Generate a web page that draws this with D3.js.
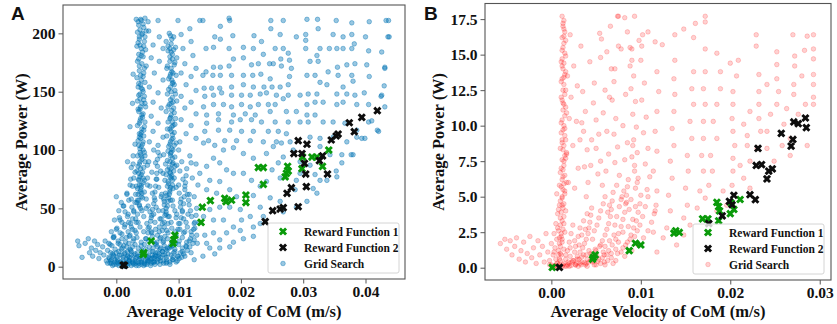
<!DOCTYPE html>
<html lang="en">
<head>
<meta charset="UTF-8">
<title>Grid search vs reward functions</title>
<script src="https://d3js.org/d3.v7.min.js"></script>
<style>
  body { margin: 0; background: #fff; }
  text { font-family: "Liberation Serif", "Times New Roman", serif; font-weight: bold; fill: #111; }
  .panel-letter { font-family: "Liberation Sans", Arial, sans-serif; font-size: 19px; }
</style>
</head>
<body>
<script>
// ---- data ----
const xTicksA = [0, 0.01, 0.02, 0.03, 0.04];
const yTicksA = [0, 50, 100, 150, 200];
const xTicksB = [0, 0.01, 0.02, 0.03];
const yTicksB = [0, 2.5, 5, 7.5, 10, 12.5, 15, 17.5];
const legendNames = ["Reward Function 1", "Reward Function 2", "Grid Search"];

// panel A: reward function 1 (green)
const rf1A = [[0.0043,10.6],[0.0044,12],[0.0056,22],[0.0091,20],[0.0092,23],[0.0094,27],[0.0136,38],[0.0138,51],
  [0.0151,56.6],[0.0174,58.6],[0.0176,55.7],[0.0185,57],[0.0208,55],[0.0208,61.4],[0.0228,85],[0.0236,85],
  [0.0236,70.6],[0.0271,77],[0.0273,80],[0.0275,86],[0.0276,82],[0.0298,84],[0.0299,94],[0.0314,94],
  [0.0322,94],[0.0331,86],[0.0341,100]];
// panel A: reward function 2 (black)
const rf2A = [[0.0011,1.4],[0.0013,1.2],[0.0239,38.6],[0.0251,48],[0.0263,49.4],[0.0268,50.6],[0.0292,51.4],
  [0.0274,62.9],[0.0281,67.7],[0.0285,97],[0.0292,108],[0.0298,97],[0.0302,88.6],[0.0304,79.4],[0.0306,105],
  [0.0305,68.6],[0.0326,90.9],[0.0331,95],[0.0339,79.4],[0.0345,108.6],[0.0353,112],[0.0356,113.7],
  [0.0374,123.4],[0.0382,115.7],[0.0394,128],[0.0419,133.7]];
// panel A: grid search (blue)
const gridA = [
  // left tail
  [-0.0062,22],[-0.0060,18],[-0.0055,8],[-0.0050,20],[-0.0045,24],[-0.0043,12],[-0.0040,16],[-0.0038,9],
  [-0.0035,22],[-0.0033,14],[-0.0030,19],[-0.0028,7],[-0.0026,12],[-0.0022,17],[-0.0020,10],[-0.0018,22],
  [-0.0016,5],[-0.0014,14],[-0.0012,8],[-0.0010,19],[-0.0008,3],[-0.0006,11],[-0.0004,25],[-0.0002,6],
  // blob near the origin
  [-0.0010,3],[-0.0008,6],[-0.0006,1],[-0.0004,9],[-0.0002,4],[0.0000,2],[0.0000,12],[0.0002,6],[0.0004,1],
  [0.0005,10],[0.0007,4],[0.0008,15],[0.0010,2],[0.0011,8],[0.0013,0.5],[0.0014,12],[0.0016,4],[0.0018,1],
  [0.0019,9],[0.0021,3],[0.0023,14],[0.0024,1],[0.0026,6],[0.0028,2],[0.0030,11],[0.0032,1],[0.0034,4],
  [0.0036,1],[0.0038,7],[0.0040,2],[0.0042,12],[0.0044,1],[0.0046,5],[0.0049,2],[0.0052,9],[0.0055,1],
  [0.0058,4],[0.0062,2],[0.0066,6],[0.0070,2],[0.0075,5],[0.0080,8],[0.0086,4],[0.0092,12],[0.0098,5],
  [0.0003,3],[0.0009,1],[0.0015,2],[0.0020,5],[0.0027,3],[0.0033,8],[0.0039,4],[0.0045,9],[0.0050,6],
  [0.0057,7],[0.0063,9],[0.0069,11],[0.0074,13],[0.0079,15],[0.0085,16],[0.0090,18],[0.0095,20],
  // dense cloud, lower left
  [-0.0014,3],[-0.0004,2],[0.0006,4],[0.0016,2],[0.0026,4],[0.0036,3],[0.0046,2],[0.0056,3],[0.0066,4],
  [0.0076,3],[0.0086,2],[0.0096,4],
  [-0.0011,7],[0.0001,8],[0.0011,6],[0.0021,8],[0.0031,7],[0.0041,6],[0.0051,8],[0.0061,7],[0.0071,8],
  [0.0081,6],[0.0091,8],[0.0101,7],[0.0110,9],
  [-0.0009,12],[0.0004,13],[0.0013,11],[0.0024,13],[0.0034,12],[0.0043,11],[0.0054,13],[0.0063,12],
  [0.0074,13],[0.0083,11],[0.0094,13],[0.0103,12],[0.0114,14],
  [-0.0007,18],[0.0006,19],[0.0017,17],[0.0030,19],[0.0040,18],[0.0053,17],[0.0064,19],[0.0077,18],
  [0.0088,17],[0.0100,19],[0.0112,18],[0.0123,20],
  [-0.0004,26],[0.0009,24],[0.0021,26],[0.0033,25],[0.0047,24],[0.0058,26],[0.0071,25],[0.0082,24],
  [0.0095,26],[0.0106,25],[0.0119,24],[0.0129,27],
  [0.0001,33],[0.0013,34],[0.0026,32],[0.0038,34],[0.0051,33],[0.0063,32],[0.0077,34],[0.0089,33],
  [0.0102,32],[0.0114,34],[0.0126,33],
  [0.0005,42],[0.0018,43],[0.0031,41],[0.0044,43],[0.0056,42],[0.0070,41],[0.0083,43],[0.0096,42],
  [0.0108,41],[0.0121,43],
  [0.0011,52],[0.0025,51],[0.0037,53],[0.0051,52],[0.0064,51],[0.0077,53],[0.0091,52],[0.0103,51],[0.0117,53],
  [0.0017,63],[0.0031,62],[0.0045,64],[0.0058,63],[0.0073,62],[0.0086,64],[0.0101,63],[0.0114,62],
  [0.0023,75],[0.0036,74],[0.0050,76],[0.0065,75],[0.0078,74],[0.0093,76],[0.0107,75],
  [0.0027,88],[0.0050,87],[0.0063,89],[0.0079,88],[0.0097,87],[0.0120,89],
  [-0.0009,5],[0.0001,4],[0.0011,3],[0.0021,5],[0.0031,3],[0.0041,4],[0.0051,5],[0.0061,4],[0.0071,5],
  [0.0081,4],[0.0091,6],
  [-0.0005,10],[0.0008,10],[0.0018,9],[0.0028,10],[0.0038,9],[0.0048,10],[0.0058,10],[0.0068,9],[0.0078,10],
  [0.0088,10],[0.0098,9],[0.0108,11],
  [-0.0002,15],[0.0010,16],[0.0022,15],[0.0035,16],[0.0047,15],[0.0059,16],[0.0070,15],[0.0082,16],
  [0.0094,15],[0.0106,16],[0.0118,17],
  [0.0003,22],[0.0015,21],[0.0027,22],[0.0040,21],[0.0052,22],[0.0065,21],[0.0076,22],[0.0089,21],
  [0.0101,22],[0.0113,21],[0.0125,23],
  [0.0006,29],[0.0019,30],[0.0032,29],[0.0044,30],[0.0057,29],[0.0069,30],[0.0083,29],[0.0095,30],
  [0.0108,29],[0.0120,30],
  [0.0009,38],[0.0023,37],[0.0035,38],[0.0049,37],[0.0062,38],[0.0074,37],[0.0088,38],[0.0100,37],
  [0.0112,38],[0.0125,37],
  [0.0014,47],[0.0028,47],[0.0041,48],[0.0054,47],[0.0068,48],[0.0080,47],[0.0094,48],[0.0106,47],[0.0119,48],
  [0.0020,57],[0.0034,57],[0.0048,58],[0.0062,57],[0.0076,58],[0.0090,57],[0.0104,58],[0.0116,57],
  [0.0026,69],[0.0040,68],[0.0054,69],[0.0068,68],[0.0082,69],[0.0096,68],[0.0110,69],
  [0.0030,81],[0.0057,81],[0.0071,82],[0.0086,81],[0.0102,82],[0.0046,95],[0.0060,100],[0.0076,96],
  // left envelope
  [-0.0005,25],[0.0000,32],[0.0003,20],[0.0006,40],[0.0009,28],[0.0012,52],[0.0014,36],[0.0017,62],
  [0.0019,45],[0.0022,70],[0.0024,58],[0.0008,55],[0.0004,48],[0.0000,60],[-0.0003,40],[0.0012,18],
  [0.0016,25],[0.0020,38],[0.0024,85],[0.0027,95],[0.0028,76],[-0.0008,30],[-0.0012,20],[0.0030,105],
  [0.0018,90],[0.0022,120],[0.0026,140],[0.0027,165],
  // first tall column
  [0.0032,212],[0.0040,211],[0.0046,213],[0.0036,207],[0.0044,205],[0.0034,201],[0.0041,199],[0.0048,202],
  [0.0037,195],[0.0045,193],[0.0033,189],[0.0040,187],[0.0047,186],[0.0036,182],[0.0043,180],[0.0034,176],
  [0.0041,174],[0.0048,172],[0.0037,168],[0.0044,166],[0.0033,162],[0.0040,160],[0.0046,158],[0.0035,154],
  [0.0042,152],[0.0038,148],[0.0045,146],[0.0034,142],[0.0041,140],[0.0047,137],[0.0036,133],[0.0043,131],
  [0.0039,127],[0.0046,124],[0.0034,121],[0.0041,118],[0.0037,114],[0.0044,112],[0.0035,108],[0.0042,105],
  [0.0038,101],[0.0045,98],[0.0034,95],[0.0041,92],[0.0037,88],[0.0044,85],[0.0033,82],[0.0040,79],
  [0.0036,75],[0.0043,72],[0.0032,69],[0.0039,66],[0.0035,62],[0.0042,59],
  [0.0038,190],[0.0039,156],[0.0038,135],[0.0039,110],[0.0038,90],[0.0037,70],
  [0.0035,210],[0.0043,208],[0.0038,203],[0.0046,197],[0.0035,192],[0.0042,184],[0.0036,178],[0.0045,170],
  [0.0039,164],[0.0036,157],[0.0043,150],[0.0038,144],[0.0046,140],[0.0035,135],[0.0042,128],[0.0037,123],
  [0.0044,117],[0.0039,113],[0.0036,104],[0.0043,100],[0.0039,96],[0.0046,90],[0.0035,86],[0.0042,81],
  [0.0038,77],[0.0045,74],[0.0034,67],[0.0041,63],[0.0036,57],
  [0.0039,212],[0.0042,200],[0.0037,197],[0.0044,189],[0.0040,181],[0.0037,172],[0.0043,163],[0.0040,153],
  [0.0036,147],[0.0044,143],[0.0039,137],[0.0041,130],[0.0038,125],[0.0045,120],[0.0040,115],[0.0037,111],
  [0.0043,107],[0.0040,103],[0.0038,98],[0.0041,94],[0.0039,84],[0.0036,80],[0.0043,76],[0.0040,70],
  [0.0038,64],[0.0040,60],[0.0033,55],[0.0039,50],
  [0.0030,55],[0.0037,52],[0.0028,48],[0.0034,45],[0.0026,41],[0.0032,38],[0.0024,34],[0.0030,31],
  [0.0022,27],[0.0028,24],[0.0020,20],[0.0026,17],[0.0018,13],[0.0024,10],[0.0016,7],[0.0021,5],
  // second tall column
  [0.0085,200],[0.0092,197],[0.0080,193],[0.0088,191],[0.0095,188],[0.0083,185],[0.0090,182],[0.0097,179],
  [0.0086,176],[0.0093,173],[0.0081,170],[0.0089,167],[0.0096,164],[0.0084,161],[0.0091,158],[0.0087,154],
  [0.0094,151],[0.0082,148],[0.0090,145],[0.0097,142],[0.0085,139],[0.0092,136],[0.0080,133],[0.0088,130],
  [0.0095,127],[0.0083,124],[0.0091,121],[0.0086,118],[0.0093,115],[0.0081,112],[0.0089,109],[0.0096,106],
  [0.0084,103],[0.0091,100],[0.0087,97],[0.0094,94],[0.0082,91],[0.0090,88],[0.0085,85],[0.0092,82],
  [0.0080,79],[0.0088,76],[0.0083,73],[0.0090,70],[0.0086,66],[0.0079,63],[0.0084,59],[0.0077,56],
  [0.0082,52],[0.0075,48],[0.0080,45],[0.0072,41],[0.0077,38],[0.0069,34],[0.0074,31],[0.0066,27],
  [0.0070,24],[0.0062,20],[0.0066,17],[0.0058,13],[0.0062,10],[0.0054,7],[0.0050,4],
  [0.0088,184],[0.0089,160],[0.0088,140],[0.0089,120],[0.0088,98],[0.0087,80],
  [0.0087,198],[0.0083,189],[0.0092,186],[0.0086,180],[0.0094,175],[0.0082,172],[0.0091,166],[0.0086,163],
  [0.0093,156],[0.0084,152],[0.0095,148],[0.0087,143],[0.0083,137],[0.0093,132],[0.0086,127],[0.0094,122],
  [0.0082,118],[0.0090,113],[0.0087,107],[0.0093,104],[0.0083,99],[0.0090,93],[0.0086,90],[0.0094,86],
  [0.0082,83],[0.0089,78],[0.0084,71],[0.0091,67],[0.0081,61],[0.0087,57],
  [0.0089,195],[0.0086,187],[0.0090,178],[0.0088,170],[0.0087,165],[0.0090,157],[0.0088,150],[0.0091,141],
  [0.0089,134],[0.0087,128],[0.0090,124],[0.0088,116],[0.0091,110],[0.0086,105],[0.0089,101],[0.0087,95],
  [0.0091,89],[0.0088,84],[0.0086,77],[0.0090,74],[0.0087,68],[0.0085,62],[0.0083,56],[0.0080,50],[0.0078,44],
  // fan streaks
  [0.0030,5],[0.0036,9],[0.0041,14],[0.0045,19],[0.0048,24],[0.0051,29],[0.0053,34],[0.0055,39],[0.0057,44],
  [0.0058,49],[0.0060,54],[0.0061,59],[0.0062,64],[0.0063,69],[0.0064,75],[0.0065,80],[0.0066,86],
  [0.0066,92],[0.0067,98],[0.0067,104],
  [0.0060,4],[0.0068,7],[0.0075,10],[0.0081,14],[0.0087,18],[0.0092,22],[0.0096,27],[0.0099,32],[0.0102,37],
  [0.0104,42],[0.0106,48],[0.0108,54],[0.0109,60],[0.0110,66],[0.0111,72],[0.0112,78],[0.0113,84],
  [0.0080,3],[0.0090,6],[0.0099,9],[0.0106,13],[0.0112,17],[0.0117,22],[0.0121,27],[0.0124,32],[0.0126,38],
  [0.0128,44],[0.0129,50],
  [0.0045,3],[0.0053,5],[0.0060,8],[0.0066,12],[0.0071,16],[0.0075,21],[0.0078,26],[0.0081,31],[0.0083,37],
  [0.0085,43],
  // scattered, middle left
  [0.0051,210],[0.0067,211],[0.0052,202],[0.0069,197],[0.0059,190],[0.0075,187],[0.0056,179],[0.0069,176],
  [0.0061,166],[0.0075,160],[0.0053,154],[0.0067,149],[0.0059,141],[0.0072,136],[0.0056,129],[0.0067,123],
  [0.0059,116],[0.0075,111],[0.0053,107],
  [0.0099,211],[0.0118,204],[0.0134,211],[0.0104,199],[0.0120,193],[0.0107,187],[0.0123,181],[0.0110,174],
  [0.0128,170],[0.0104,166],[0.0120,163],[0.0112,156],[0.0128,151],[0.0104,146],[0.0120,141],[0.0110,136],
  [0.0128,131],[0.0104,126],[0.0120,121],[0.0112,114],[0.0128,110],[0.0102,107],
  [0.0100,100],[0.0118,95],[0.0128,88],[0.0105,90],[0.0122,76],[0.0131,70],[0.0100,70],[0.0117,62],
  [0.0125,60],[0.0103,55],[0.0115,45],[0.0133,38],[0.0097,45],[0.0110,30],[0.0120,12],[0.0130,20],
  [0.0105,8],[0.0125,6],[0.0072,60],[0.0075,80],[0.0070,95],[0.0060,45],[0.0050,70],[0.0052,90],
  [0.0048,50],[0.0056,30],
  // scattered, upper right
  [0.0139,211],[0.0167,206],[0.0181,213],[0.0182,211],[0.0187,198],[0.0158,197],[0.0167,195],[0.0144,187],
  [0.0156,188],[0.0181,187],[0.0204,188],[0.0220,187],[0.0233,193],[0.0221,198],[0.0236,182],[0.0248,211],
  [0.0268,211],[0.0248,204],[0.0263,199],[0.0255,187],[0.0268,187],[0.0276,183],[0.0264,178],[0.0278,177],
  [0.0306,212],[0.0323,212],[0.0324,204],[0.0353,211],[0.0378,209],[0.0406,210],[0.0437,211],[0.0348,199],
  [0.0364,197],[0.0378,199],[0.0400,197],[0.0438,197],[0.0382,191],[0.0378,187],[0.0327,187],[0.0342,187],
  [0.0354,187],[0.0364,187],[0.0405,185],[0.0304,187],[0.0304,199],[0.0304,194],[0.0289,197],[0.0281,170],
  [0.0322,181],[0.0324,176],[0.0311,176],[0.0340,167],[0.0355,171],[0.0370,173],[0.0383,174],[0.0402,173],
  [0.0431,171],[0.0319,164],[0.0306,164],[0.0356,164],[0.0378,164],[0.0406,163],[0.0327,158],[0.0338,156],
  [0.0364,154],[0.0380,159],[0.0322,148],[0.0308,148],[0.0354,148],[0.0370,148],[0.0383,147],[0.0398,149],
  [0.0426,147],[0.0295,147],[0.0276,147],[0.0276,156],[0.0278,163],[0.0265,172],[0.0252,174],[0.0246,174],
  [0.0228,174],[0.0217,173],[0.0204,179],[0.0188,178],[0.0181,172],[0.0167,171],[0.0156,171],[0.0144,167],
  [0.0139,164],[0.0155,164],[0.0167,164],[0.0185,164],[0.0204,164],[0.0219,164],[0.0232,165],[0.0247,161],
  [0.0263,154],[0.0250,154],[0.0237,154],[0.0220,154],[0.0204,156],[0.0185,154],[0.0166,153],[0.0153,153],
  [0.0141,153],[0.0142,146],[0.0156,147],[0.0169,149],[0.0185,147],[0.0201,147],[0.0215,147],[0.0231,148],
  [0.0241,149],[0.0257,147],[0.0268,144],[0.0255,139],[0.0244,139],[0.0228,139],[0.0215,137],[0.0201,139],
  [0.0185,137],[0.0172,139],[0.0156,139],[0.0140,137],[0.0145,130],[0.0164,131],[0.0188,130],[0.0207,131],
  [0.0223,130],[0.0247,133],[0.0273,133],[0.0289,133],[0.0306,139],[0.0319,141],[0.0332,141],[0.0354,139],
  [0.0364,141],[0.0386,139],[0.0405,139],[0.0306,130],[0.0319,130],[0.0332,124],[0.0348,124],[0.0367,123],
  [0.0405,124],[0.0421,116],[0.0386,111],[0.0295,124],[0.0308,124],[0.0276,124],[0.0255,124],[0.0233,124],
  [0.0217,126],[0.0199,126],[0.0185,124],[0.0164,126],[0.0145,123],[0.0142,116],[0.0164,117],[0.0182,117],
  [0.0201,116],[0.0220,116],[0.0244,116],[0.0260,116],[0.0273,114],[0.0311,111],[0.0327,110],[0.0348,111],
  [0.0370,107],[0.0148,108],[0.0174,108],[0.0193,108],[0.0215,108],[0.0236,107],[0.0257,107],[0.0279,107],
  [0.0399,110],[0.0386,117],[0.0433,211],[0.0436,197],[0.0426,184],[0.0431,170],[0.0425,146],
  // scattered, lower right
  [0.0140,106],[0.0158,104],[0.0172,100],[0.0188,102],[0.0204,97],[0.0220,93],[0.0241,97],[0.0252,103],
  [0.0265,106],[0.0268,94],[0.0260,89],[0.0284,100],[0.0295,90],[0.0311,87],[0.0319,79],[0.0327,103],
  [0.0343,96],[0.0362,96],[0.0380,96],[0.0362,89],[0.0354,77],[0.0327,74],[0.0316,67],[0.0295,80],
  [0.0289,74],[0.0263,76],[0.0250,83],[0.0241,73],[0.0231,69],[0.0217,74],[0.0204,80],[0.0188,80],
  [0.0177,83],[0.0166,89],[0.0156,93],[0.0145,86],[0.0134,80],[0.0150,74],[0.0166,73],[0.0145,66],
  [0.0161,63],[0.0182,66],[0.0193,60],[0.0220,61],[0.0247,59],[0.0263,56],[0.0287,66],[0.0306,56],
  [0.0289,51],[0.0268,47],[0.0231,51],[0.0215,43],[0.0199,49],[0.0182,51],[0.0166,51],[0.0150,49],
  [0.0140,43],[0.0156,40],[0.0172,40],[0.0188,34],[0.0201,40],[0.0220,34],[0.0236,43],[0.0199,31],
  [0.0177,29],[0.0156,29],[0.0142,27],[0.0166,23],[0.0188,21],[0.0145,20],[0.0204,24],[0.0220,26],
  [0.0231,37],[0.0150,16],[0.0166,16],[0.0182,17],[0.0139,9],[0.0158,11],
  [0.0377,96],[0.0394,110],[0.0419,117],[0.0353,82],[0.0338,74],[0.0322,63],[0.0410,125],[0.0431,137],
  [0.0430,155]
];

// panel B: reward function 1 (green)
const rf1B = [[0.0001,0.02],[0.0047,0.73],[0.0049,0.9],[0.0046,0.6],[0.0087,1.2],[0.0094,1.72],[0.0100,1.6],
  [0.0137,2.43],[0.0139,2.6],[0.0143,2.48],[0.0169,3.44],[0.0175,3.44],[0.0187,3.3],[0.0185,4.6],
  [0.0187,4.3],[0.0188,4.0],[0.0200,3.8],[0.0204,4.1],[0.0211,4.8],[0.0201,4.55]];
// panel B: reward function 2 (black)
const rf2B = [[0.0009,0.02],[0.0176,3.1],[0.0191,3.65],[0.0199,4.67],[0.0202,4.43],[0.0204,5.1],[0.0222,5.14],
  [0.0228,4.79],[0.0229,7.2],[0.0235,7.26],[0.0231,8.4],[0.0241,6.25],[0.0243,6.8],[0.0247,6.96],
  [0.0257,9.46],[0.0268,8.56],[0.0270,9.03],[0.0271,10.26],[0.0276,10.14],[0.0284,10.54],[0.0285,9.86]];
// panel B: grid search (red)
const gridB = [
  // tall column
  [0.0012,17.7],[0.0014,17.4],[0.0013,17.0],[0.0015,16.6],[0.0012,16.2],[0.0014,15.8],[0.0013,15.5],
  [0.0015,15.1],[0.0012,14.7],[0.0014,14.4],[0.0013,14.0],[0.0015,13.6],[0.0012,13.3],[0.0014,12.9],
  [0.0013,12.5],[0.0015,12.2],[0.0012,11.8],[0.0014,11.5],[0.0013,11.1],[0.0015,10.7],[0.0012,10.4],
  [0.0014,10.0],[0.0013,9.7],[0.0015,9.3],[0.0012,9.0],[0.0014,8.6],[0.0013,8.3],[0.0015,7.9],[0.0012,7.6],
  [0.0014,7.2],[0.0013,6.9],[0.0015,6.5],[0.0012,6.2],[0.0014,5.9],[0.0013,5.5],[0.0015,5.2],[0.0012,4.9],
  [0.0014,4.5],[0.0013,4.2],[0.0011,3.9],[0.0014,3.6],[0.0012,3.3],[0.0010,3.0],[0.0013,2.7],[0.0011,2.4],
  [0.0009,2.1],[0.0012,1.8],[0.0010,1.5],[0.0008,1.2],[0.0011,0.9],[0.0009,0.6],[0.0007,0.3],
  [0.0016,14.9],[0.0011,13.1],[0.0016,11.3],[0.0011,9.5],[0.0016,7.7],[0.0011,5.7],[0.0016,4.0],
  [0.0015,2.5],[0.0014,1.3],[0.0017,10.9],[0.0017,8.1],[0.0010,6.7],[0.0010,4.7],[0.0016,16.0],
  [0.0011,12.0],[0.0017,6.0],
  [0.0005,0.6],[0.0008,0.9],[0.0003,1.1],[0.0009,1.7],[0.0011,2.2],[0.0007,2.8],[0.0010,3.5],[0.0008,4.1],
  [0.0012,5.0],[0.0009,5.8],[0.0011,7.0],[0.0010,8.4],[0.0016,9.0],[0.0011,10.2],[0.0016,12.5],
  [0.0011,14.5],[0.0014,16.8],[0.0012,15.3],[0.0016,13.8],
  [0.0013,17.2],[0.0014,16.3],[0.0012,14.2],[0.0014,13.4],[0.0013,11.6],[0.0015,9.8],[0.0012,8.8],
  [0.0014,7.5],[0.0013,6.4],[0.0015,5.4],[0.0012,4.4],[0.0014,3.1],[0.0012,2.0],[0.0010,1.0],
  // left tail
  [-0.0057,1.7],[-0.0052,2.0],[-0.0050,1.3],[-0.0046,1.9],[-0.0044,0.9],[-0.0041,1.5],[-0.0039,2.1],
  [-0.0036,0.6],[-0.0034,1.2],[-0.0031,1.8],[-0.0029,0.4],[-0.0027,1.0],[-0.0024,2.2],[-0.0022,0.7],
  [-0.0020,1.4],[-0.0017,0.3],[-0.0015,1.9],[-0.0013,0.9],[-0.0010,1.5],[-0.0008,0.4],[-0.0006,2.4],
  [-0.0004,1.1],[-0.0002,0.2],[0.0000,1.7],
  // fan near the origin
  [0.0015,0.1],[0.0020,0.3],[0.0025,0.5],[0.0029,0.8],[0.0032,1.1],[0.0035,1.4],[0.0037,1.7],[0.0039,2.0],
  [0.0041,2.4],[0.0042,2.8],[0.0043,3.2],[0.0044,3.7],[0.0045,4.2],
  [0.0020,0.1],[0.0027,0.2],[0.0034,0.4],[0.0040,0.6],[0.0045,0.9],[0.0050,1.2],[0.0054,1.5],[0.0057,1.9],
  [0.0060,2.3],[0.0062,2.7],[0.0064,3.1],[0.0066,3.6],[0.0067,4.1],[0.0068,4.7],[0.0069,5.3],
  [0.0030,0.1],[0.0038,0.2],[0.0046,0.4],[0.0053,0.6],[0.0059,0.9],[0.0064,1.2],[0.0068,1.6],[0.0072,2.0],
  [0.0075,2.4],[0.0078,2.9],[0.0080,3.4],[0.0082,3.9],[0.0083,4.5],[0.0084,5.1],[0.0085,5.7],
  [0.0040,0.1],[0.0050,0.2],[0.0059,0.4],[0.0067,0.7],[0.0074,1.0],[0.0080,1.4],[0.0085,1.8],[0.0089,2.3],
  [0.0092,2.8],[0.0095,3.3],[0.0097,3.9],[0.0099,4.5],[0.0100,5.1],
  [0.0060,0.2],[0.0072,0.5],[0.0082,0.8],[0.0090,1.2],[0.0097,1.6],[0.0103,2.1],[0.0108,2.6],[0.0112,3.2],
  [0.0115,3.8],[0.0117,4.4],
  [0.0003,0.1],[0.0006,0.3],[0.0008,0.1],[0.0010,0.5],[0.0013,0.2],[0.0016,0.6],[0.0018,0.2],[0.0021,0.8],
  [0.0023,0.4],[0.0026,1.1],[0.0028,0.3],[0.0031,0.6],[0.0033,0.2],[0.0036,0.9],[0.0039,0.3],[0.0042,1.2],
  [0.0044,0.5],[0.0048,0.2],[0.0051,0.8],[0.0055,0.3],[0.0058,1.1],[0.0063,0.5],[0.0069,0.3],[-0.0002,0.5],
  [0.0000,0.2],[0.0002,0.9],[0.0004,1.4],[0.0006,2.0],[0.0008,2.6],[0.0005,3.1],[0.0003,2.4],[0.0007,3.8],
  [0.0009,4.4],[0.0006,5.2],[0.0018,1.2],[0.0020,1.8],[0.0022,2.4],[0.0024,3.0],[0.0027,1.5],[0.0030,2.2],
  [0.0032,2.8],
  [0.0001,0.05],[0.0004,0.15],[0.0007,0.05],[0.0009,0.2],[0.0012,0.08],[0.0014,0.3],[0.0017,0.1],
  [0.0019,0.4],[0.0022,0.15],[0.0024,0.5],[0.0027,0.2],[0.0029,0.6],[0.0032,0.3],[0.0034,0.75],[0.0037,0.35],
  [0.0039,0.9],[0.0042,0.4],[0.0044,1.0],[0.0047,0.5],[0.0049,1.3],[0.0052,0.45],[0.0055,1.6],[0.0057,0.7],
  [0.0060,1.5],[0.0062,0.9],[0.0065,1.9],[0.0067,1.0],[0.0070,2.3],[0.0072,1.3],[0.0075,1.8],[0.0078,1.1],
  [0.0080,2.5],[0.0083,1.6],[0.0086,2.9],[0.0088,2.0],[0.0091,3.4],[0.0093,2.2],[0.0096,2.6],[0.0099,3.0],
  [0.0016,0.9],[0.0021,1.4],[0.0026,1.9],[0.0031,1.6],[0.0034,2.3],[0.0038,2.7],[0.0036,3.3],[0.0040,3.8],
  [0.0046,2.0],[0.0048,2.6],[0.0051,3.0],[0.0053,3.5],[0.0055,4.0],[0.0058,4.5],[0.0060,5.0],[0.0063,3.9],
  [0.0065,4.4],[0.0071,3.0],[0.0073,3.6],[0.0076,4.3],[0.0078,4.8],[0.0081,5.4],[0.0087,4.1],[0.0089,4.8],
  [0.0094,4.3],[0.0102,3.6],[0.0105,4.3],[0.0108,5.0],
  // scattered, left half
  [0.0021,16.4],[0.0025,14.2],[0.0022,12.0],[0.0028,10.3],[0.0024,8.6],[0.0030,7.0],[0.0026,5.6],
  [0.0035,12.4],[0.0038,11.0],[0.0036,9.6],[0.0040,8.3],[0.0037,7.1],[0.0041,6.0],[0.0039,5.0],[0.0034,10.2],
  [0.0047,11.6],[0.0050,10.4],[0.0053,9.4],[0.0050,8.4],[0.0055,7.5],[0.0052,6.6],[0.0057,5.8],[0.0048,13.0],
  [0.0060,12.5],[0.0058,10.9],[0.0062,9.6],[0.0064,8.0],[0.0061,6.8],
  [0.0056,16.1],[0.0062,15.2],[0.0067,14.0],[0.0070,13.1],[0.0068,11.8],[0.0072,10.5],[0.0070,9.4],
  [0.0074,8.5],[0.0071,7.4],[0.0076,6.5],[0.0073,5.8],
  [0.0075,17.7],[0.0082,17.6],[0.0085,16.6],[0.0088,15.5],[0.0090,14.6],[0.0092,13.5],[0.0089,12.6],
  [0.0094,11.7],[0.0091,10.8],[0.0095,9.9],[0.0092,9.0],[0.0096,8.1],[0.0093,7.2],[0.0097,6.3],[0.0094,5.6],
  [0.0088,14.2],[0.0091,8.6],[0.0090,7.8],[0.0093,6.8],[0.0096,6.0],
  [0.0098,16.0],[0.0102,16.4],[0.0100,14.6],[0.0104,13.0],[0.0101,11.8],[0.0106,10.6],[0.0103,9.5],
  [0.0108,8.4],[0.0105,7.3],[0.0110,6.4],[0.0107,5.5],
  [0.0078,15.4],[0.0083,12.2],[0.0080,10.0],[0.0085,8.8],[0.0082,7.6],[0.0086,6.2],[0.0079,5.0],[0.0084,4.6],
  [0.0065,12.0],[0.0045,9.0],[0.0044,7.2],[0.0032,9.0],[0.0029,12.8],[0.0018,13.5],[0.0020,10.5],
  [0.0017,8.0],[0.0019,6.0],[0.0043,14.5],[0.0033,15.6],[0.0055,14.8],[0.0066,17.0],
  [0.0054,16.5],[0.0075,15.6],[0.0090,15.4],[0.0071,14.0],[0.0074,17.7],[0.0093,17.7],[0.0108,16.6],
  [0.0101,15.6],
  // scattered, right half
  [0.0172,17.7],[0.0172,17.3],[0.0161,17.2],[0.0229,16.4],[0.0270,16.4],[0.0286,16.3],[0.0293,16.4],
  [0.0293,15.4],[0.0283,15.3],[0.0138,16.4],[0.0148,16.8],[0.0159,16.2],[0.0124,15.7],[0.0116,15.9],
  [0.0138,14.6],[0.0172,15.4],[0.0185,15.1],[0.0200,14.4],[0.0209,14.6],[0.0229,15.6],[0.0252,15.2],
  [0.0272,14.9],[0.0272,14.2],[0.0293,14.7],[0.0293,13.6],[0.0280,13.5],[0.0271,12.9],[0.0293,12.9],
  [0.0293,12.0],[0.0271,12.2],[0.0284,11.5],[0.0293,11.5],[0.0252,14.3],[0.0252,13.3],[0.0254,12.4],
  [0.0252,11.5],[0.0241,12.9],[0.0232,13.6],[0.0232,12.4],[0.0232,11.5],[0.0232,10.5],[0.0234,9.6],
  [0.0222,11.0],[0.0215,10.1],[0.0207,13.5],[0.0203,12.4],[0.0203,11.5],[0.0202,10.5],[0.0203,9.6],
  [0.0205,8.6],[0.0203,7.7],[0.0203,6.8],[0.0202,5.8],[0.0189,13.8],[0.0189,12.6],[0.0185,11.5],
  [0.0181,10.3],[0.0185,9.1],[0.0178,7.9],[0.0180,6.8],[0.0176,5.8],[0.0172,4.9],[0.0172,13.8],
  [0.0170,12.6],[0.0172,11.5],[0.0170,10.3],[0.0170,9.1],[0.0168,7.9],[0.0170,6.8],[0.0166,5.4],
  [0.0163,4.2],[0.0159,13.8],[0.0157,12.6],[0.0159,11.5],[0.0155,10.3],[0.0157,9.1],[0.0152,7.9],
  [0.0153,6.8],[0.0150,5.6],[0.0152,4.4],[0.0148,3.5],[0.0137,13.3],[0.0138,12.2],[0.0137,11.0],
  [0.0135,9.8],[0.0137,8.6],[0.0133,7.5],[0.0135,6.3],[0.0131,5.1],[0.0133,4.0],[0.0129,2.8],[0.0125,2.1],
  [0.0118,13.8],[0.0120,12.4],[0.0118,11.0],[0.0116,9.6],[0.0118,8.2],[0.0114,6.8],[0.0118,5.4],
  [0.0116,4.0],[0.0114,2.5],[0.0118,1.1],[0.0219,8.6],[0.0222,7.5],[0.0230,8.4],[0.0241,9.6],[0.0245,10.8],
  [0.0260,10.1],[0.0263,11.2],[0.0258,8.6],[0.0267,7.9],[0.0286,8.6],[0.0276,10.8],[0.0148,2.3],
  [0.0140,1.6],[0.0192,5.4],[0.0215,6.3],[0.0222,5.6],[0.0196,4.4],[0.0155,3.0],[0.0185,4.0],[0.0211,7.2],
  [0.0219,9.3],[0.0267,9.1],[0.0241,8.4],[0.0249,7.5]
];

// ---- drawing ----
const width = 837, height = 324;
const svg = d3.select("body").append("svg").attr("width", width).attr("height", height);

const crossPath = d3.symbol().type(d3.symbolCross).size(42)();

function drawPanel(p) {
  const x = d3.scaleLinear().domain(p.xDomain).range([p.left, p.right]);
  const y = d3.scaleLinear().domain(p.yDomain).range([p.bottom, p.top]);
  const g = svg.append("g");

  const clipId = "clip" + p.letter;
  g.append("clipPath").attr("id", clipId).append("rect")
      .attr("x", p.left).attr("y", p.top).attr("width", p.right - p.left).attr("height", p.bottom - p.top);

  const plot = g.append("g").attr("clip-path", `url(#${clipId})`);

  plot.selectAll("circle.grid").data(p.grid).enter().append("circle").attr("class", "grid")
      .attr("cx", d => x(d[0])).attr("cy", d => y(d[1])).attr("r", 2.3)
      .attr("fill", p.gridColor).attr("stroke", p.gridColor).attr("stroke-width", 1);

  plot.selectAll("path.rf1").data(p.rf1).enter().append("path").attr("class", "rf1")
      .attr("d", crossPath).attr("fill", "#0a9a0a")
      .attr("transform", d => `translate(${x(d[0])},${y(d[1])}) rotate(45)`);

  plot.selectAll("path.rf2").data(p.rf2).enter().append("path").attr("class", "rf2")
      .attr("d", crossPath).attr("fill", "#0d0d0d")
      .attr("transform", d => `translate(${x(d[0])},${y(d[1])}) rotate(45)`);

  // axes
  const xAxis = g.append("g").attr("transform", `translate(0,${p.bottom})`)
      .call(d3.axisBottom(x).tickValues(p.xTicks).tickFormat(d3.format(".2f")).tickSize(4.5).tickPadding(2.5));
  const yAxis = g.append("g").attr("transform", `translate(${p.left},0)`)
      .call(d3.axisLeft(y).tickValues(p.yTicks).tickFormat(d3.format(p.yFormat)).tickSize(4.5).tickPadding(3));
  [xAxis, yAxis].forEach(a => {
    a.select(".domain").remove();
    a.selectAll(".tick line").attr("stroke", "#444").attr("stroke-width", 0.9);
    a.selectAll(".tick text").attr("font-size", 15.5).attr("font-family", null).attr("fill", "#111");
  });

  g.append("rect").attr("x", p.left).attr("y", p.top)
      .attr("width", p.right - p.left).attr("height", p.bottom - p.top)
      .attr("fill", "none").attr("stroke", "#555").attr("stroke-width", 1.1);

  // labels
  g.append("text").attr("x", (p.left + p.right) / 2).attr("y", 317)
      .attr("text-anchor", "middle").attr("font-size", 16.5).text("Average Velocity of CoM (m/s)");
  g.append("text").attr("transform", `translate(${p.yLabelX},${(p.top + p.bottom) / 2}) rotate(-90)`)
      .attr("text-anchor", "middle").attr("dy", "0.35em").attr("font-size", 16.5).text("Average Power (W)");
  g.append("text").attr("class", "panel-letter").attr("x", p.letterX).attr("y", 20).text(p.letter);

  // legend
  const lg = g.append("g").attr("transform", `translate(${p.legendX},${p.legendY})`);
  lg.append("rect").attr("width", 131).attr("height", 50).attr("rx", 2)
      .attr("fill", "rgba(255,255,255,0.8)").attr("stroke", "#cfcfcf").attr("stroke-width", 0.9);
  legendNames.forEach((name, i) => {
    const cy = 8.5 + i * 16;
    if (i < 2) {
      lg.append("path").attr("d", crossPath).attr("fill", i === 0 ? "#0a9a0a" : "#0d0d0d")
          .attr("transform", `translate(15,${cy}) rotate(45)`);
    } else {
      lg.append("circle").attr("cx", 15).attr("cy", cy).attr("r", 2.3)
          .attr("fill", p.gridColor).attr("stroke", p.gridColor).attr("stroke-width", 1);
    }
    lg.append("text").attr("x", 36).attr("y", cy).attr("dy", "0.35em").attr("font-size", 11.5).text(name);
  });
}

drawPanel({
  letter: "A", letterX: 11, left: 63, right: 405, top: 5, bottom: 279,
  xDomain: [-0.00856, 0.04634], yDomain: [-10.54, 224.3],
  xTicks: xTicksA, yTicks: yTicksA, yFormat: "d", yLabelX: 21,
  grid: gridA, rf1: rf1A, rf2: rf2A, gridColor: "rgba(0,115,180,0.4)",
  legendX: 268, legendY: 223
});
drawPanel({
  letter: "B", letterX: 424, left: 485, right: 831, top: 3.5, bottom: 280,
  xDomain: [-0.00742, 0.03126], yDomain: [-0.866, 18.6],
  xTicks: xTicksB, yTicks: yTicksB, yFormat: ".1f", yLabelX: 438,
  grid: gridB, rf1: rf1B, rf2: rf2B, gridColor: "rgba(255,0,0,0.18)",
  legendX: 693, legendY: 224
});
</script>
</body>
</html>
